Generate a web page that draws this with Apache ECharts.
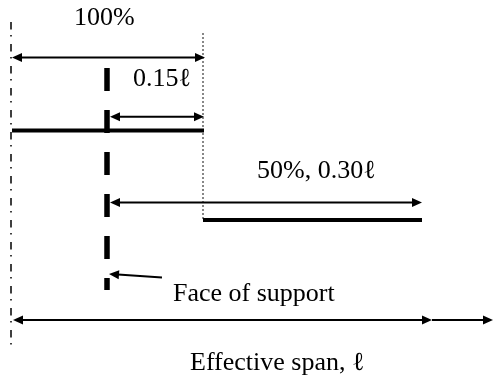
<!DOCTYPE html>
<html><head><meta charset="utf-8">
<script src="https://cdn.jsdelivr.net/npm/echarts@6/dist/echarts.min.js"></script>
<style>html,body{margin:0;padding:0;background:#fff}#c{width:493px;height:378px}</style>
</head><body><div id="c"></div>
<script>
// Diagram values in figure units (x: along the span, y: down the sheet)
const centreLine = [[11, 22, 351]];          // [x, yTop, yBottom] support centreline (dash-dot)
const cutoffLine = [[203, 33, 221]];         // 0.15ℓ cut-off (dotted)
const faceLine   = [[107, 68, 290]];         // face of support (heavy dashed)
const bars = [                               // [xStart, xEnd, y] reinforcement bars
  [12, 204, 130.5],
  [203, 422, 220]
];
const arrows = [                             // [x1, y1, x2, y2, headAtStart, headAtEnd]
  [12, 57.5, 205, 57.5, 1, 1],
  [110, 116.7, 204, 116.7, 1, 1],
  [110, 202.5, 422, 202.5, 1, 1],
  [162, 277.5, 109, 274, 0, 1],
  [13, 320, 432, 320, 1, 1],
  [432, 320, 493, 320, 0, 1]
];
const labels  = ['100%', '0.15ℓ', '50%, 0.30ℓ', 'Face of support', 'Effective span, ℓ'];
const labelX  = [74, 133, 257, 173, 190];    // left edge
const labelY  = [27, 88, 180, 303, 372];     // baseline

const FONT = '26px "Liberation Serif", "Times New Roman", serif';
const chart = echarts.init(document.getElementById('c'), null, {renderer: 'canvas'});

function vline(dash, width, color) {
  return function (params, api) {
    const p1 = api.coord([api.value(0), api.value(1)]);
    const p2 = api.coord([api.value(0), api.value(2)]);
    return {type: 'line', shape: {x1: p1[0], y1: p1[1], x2: p2[0], y2: p2[1]},
      style: {stroke: color, lineWidth: width, lineDash: dash, fill: null}};
  };
}
function head(tip, from, L, W) {
  let dx = tip[0] - from[0], dy = tip[1] - from[1];
  const n = Math.hypot(dx, dy); dx /= n; dy /= n;
  const bx = tip[0] - dx * L, by = tip[1] - dy * L;
  return [[tip[0], tip[1]], [bx - dy * W, by + dx * W], [bx + dy * W, by - dx * W]];
}

const option = {
  animation: false,
  backgroundColor: '#fff',
  grid: {left: 0, right: 0, top: 0, bottom: 0},
  xAxis: {type: 'value', min: 0, max: 493, show: false},
  yAxis: {type: 'value', min: 0, max: 378, inverse: true, show: false},
  series: [
    {type: 'custom', data: centreLine, renderItem: vline([7.5, 5.5, 1.5, 7.5], 1.5, '#000'), silent: true},
    {type: 'custom', data: cutoffLine, renderItem: vline([2, 2], 1, '#111'), silent: true},
    {type: 'custom', data: faceLine, renderItem: vline([23, 19], 5.5, '#000'), silent: true},
    {type: 'custom', data: bars, silent: true, renderItem: function (params, api) {
      const p1 = api.coord([api.value(0), api.value(2)]);
      const p2 = api.coord([api.value(1), api.value(2)]);
      return {type: 'line', shape: {x1: p1[0], y1: p1[1], x2: p2[0], y2: p2[1]},
        style: {stroke: '#000', lineWidth: 4}};
    }},
    {type: 'custom', data: arrows, silent: true, renderItem: function (params, api) {
      const a = api.coord([api.value(0), api.value(1)]);
      const b = api.coord([api.value(2), api.value(3)]);
      const hs = api.value(4), he = api.value(5);
      const L = 10, W = 4.5;
      let dx = b[0] - a[0], dy = b[1] - a[1];
      const n = Math.hypot(dx, dy); dx /= n; dy /= n;
      const s = hs ? [a[0] + dx * (L - 1), a[1] + dy * (L - 1)] : a;
      const e = he ? [b[0] - dx * (L - 1), b[1] - dy * (L - 1)] : b;
      const children = [{type: 'line', shape: {x1: s[0], y1: s[1], x2: e[0], y2: e[1]},
        style: {stroke: '#000', lineWidth: 2}}];
      if (hs) children.push({type: 'polygon', shape: {points: head(a, b, L, W)}, style: {fill: '#000'}});
      if (he) children.push({type: 'polygon', shape: {points: head(b, a, L, W)}, style: {fill: '#000'}});
      return {type: 'group', children: children};
    }},
    {type: 'custom', data: labels.map((t, i) => [labelX[i], labelY[i], i]), silent: true,
      renderItem: function (params, api) {
        const p = api.coord([api.value(0), api.value(1)]);
        return {type: 'text', x: p[0], y: p[1] - 8.5,
          style: {text: labels[api.value(2)], font: FONT, fill: '#000', align: 'left', verticalAlign: 'middle'}};
      }}
  ]
};
chart.setOption(option);
</script>
</body></html>
